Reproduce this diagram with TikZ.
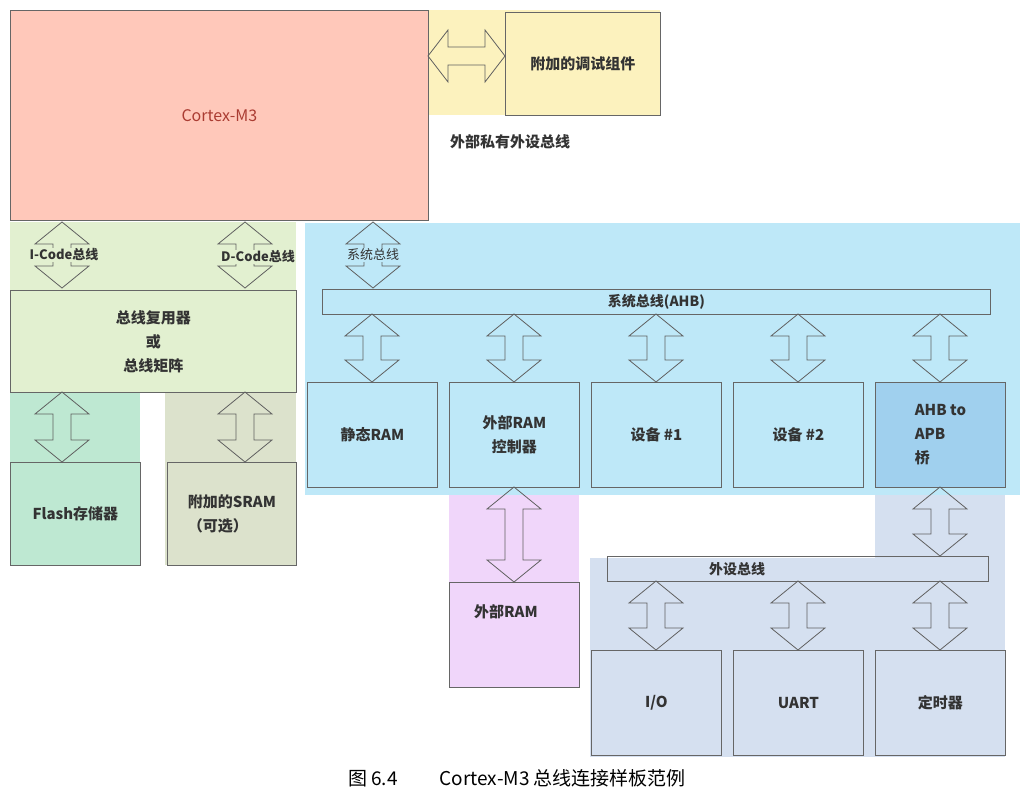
\documentclass[tikz,border=0pt]{standalone}
\usepackage{fontspec}
\setmainfont{Noto Sans CJK SC}
\definecolor{cyel}{RGB}{252,242,190}
\definecolor{cgrn}{RGB}{226,240,208}
\definecolor{cteal}{RGB}{190,232,210}
\definecolor{colive}{RGB}{220,226,204}
\definecolor{cblue}{RGB}{190,232,248}
\definecolor{cpink}{RGB}{240,214,250}
\definecolor{cperi}{RGB}{213,224,240}
\definecolor{csalm}{RGB}{255,200,186}
\definecolor{cred}{RGB}{170,60,50}
\definecolor{cbr}{RGB}{160,208,238}
\begin{document}
\begin{tikzpicture}[x=1pt,y=-1pt,
  box/.style={draw=gray!80!black,line width=0.8pt},
  lab/.style={font=\fontsize{15}{24}\selectfont\bfseries,text=black!80,align=center},
  arr/.style={draw=gray!75!black,line width=0.8pt,fill=none}]
\useasboundingbox (0,0) rectangle (1034,797);
\newcommand\vdarrow[3]{%
  \draw[arr] (#1,#2) -- (#1+27,#2+22) -- (#1+9,#2+22) -- (#1+9,#3-22) -- (#1+27,#3-22) -- (#1,#3)
   -- (#1-27,#3-22) -- (#1-9,#3-22) -- (#1-9,#2+22) -- (#1-27,#2+22) -- cycle;}
% backgrounds
\fill[cyel] (428,10) rectangle (660,115);
\fill[cgrn] (10,222) rectangle (296,392);
\fill[cteal] (10,392) rectangle (140,565);
\fill[colive] (165,392) rectangle (296,565);
\fill[cblue] (305,223) rectangle (1020,495);
\fill[cpink] (449,495) rectangle (579,688);
\fill[cperi] (875,495) rectangle (1005,558);
\fill[cperi] (590,558) rectangle (1005,757);
% top
\node[box,fill=csalm,minimum width=418,minimum height=210,anchor=north west,
  font=\fontsize{16}{19}\selectfont,text=cred] (cm3) at (10,10) {Cortex-M3};
\node[box,fill=cyel,minimum width=155,minimum height=103,anchor=north west,lab] (dbg) at (505,12) {附加的调试组件};
\draw[arr] (428,56) -- (448,30) -- (448,47) -- (485,47) -- (485,30) -- (505,56) -- (485,82) -- (485,65) -- (448,65) -- (448,82) -- cycle;
\node[lab] (ppb) at (510,142) {外部私有外设总线};
% left
\node[box,fill=cgrn,minimum width=286,minimum height=102,anchor=north west,lab] (mux) at (10,290) {总线复用器\\或\\总线矩阵};
\node[box,fill=cteal,minimum width=130,minimum height=103,anchor=north west,lab] (flash) at (10,462) {Flash存储器};
\node[box,fill=colive,minimum width=129,minimum height=103,anchor=north west,lab,align=left] (sram) at (167,462) {附加的SRAM\\（可选）};
\vdarrow{62}{222}{288}
\vdarrow{245}{222}{288}
\vdarrow{373}{222}{288}
\node[lab,fill=cgrn,inner sep=1pt,font=\fontsize{13}{15}\selectfont\bfseries] (ic) at (64,255) {I-Code总线};
\node[lab,fill=cgrn,inner sep=1pt,font=\fontsize{13}{15}\selectfont\bfseries] (dc) at (258,257) {D-Code总线};
\node[lab,fill=cblue,inner sep=1pt,font=\fontsize{13}{15}\selectfont] (sc) at (373,255) {系统总线};
\vdarrow{62}{392}{462}
\vdarrow{245}{392}{462}
% system bus
\node[box,minimum width=668,minimum height=25,anchor=north west,lab,font=\fontsize{14}{16}\selectfont\bfseries] (ahb) at (322,289) {系统总线(AHB)};
\foreach \n/\x/\t in {s1/307/静态RAM,s2/449/{外部RAM\\控制器},s3/591/设备 \#1,s4/733/设备 \#2}
  \node[box,minimum width=130,minimum height=105,anchor=north west,lab] (\n) at (\x,382) {\t};
\node[box,fill=cbr,minimum width=130,minimum height=105,anchor=north west,lab,align=left] (br) at (875,382) {AHB to\\APB\\桥};
\foreach \x in {372,514,656,798,940} {\vdarrow{\x}{314}{382}}
\node[box,fill=cpink,minimum width=130,minimum height=105,anchor=north west] (eram) at (449,582) {};
\node[lab] (eraml) at (506,612) {外部RAM};
\vdarrow{514}{487}{582}
% peripheral bus
\node[box,minimum width=381,minimum height=25,anchor=north west] (apb) at (607,556) {};
\node[lab,font=\fontsize{14}{16}\selectfont\bfseries] (apbl) at (737,569) {外设总线};
\vdarrow{940}{487}{556}
\foreach \n/\x/\t in {p1/591/{I/O},p2/733/UART,p3/875/定时器}
  \node[box,minimum width=130,minimum height=105,anchor=north west,lab] (\n) at (\x,650) {\t};
\foreach \x in {656,798,940} {\vdarrow{\x}{581}{650}}
\node[font=\fontsize{19}{22}\selectfont] (cap) at (517,778) {图 6.4\hspace{2.2em}Cortex-M3 总线连接样板范例};
\end{tikzpicture}
\end{document}
